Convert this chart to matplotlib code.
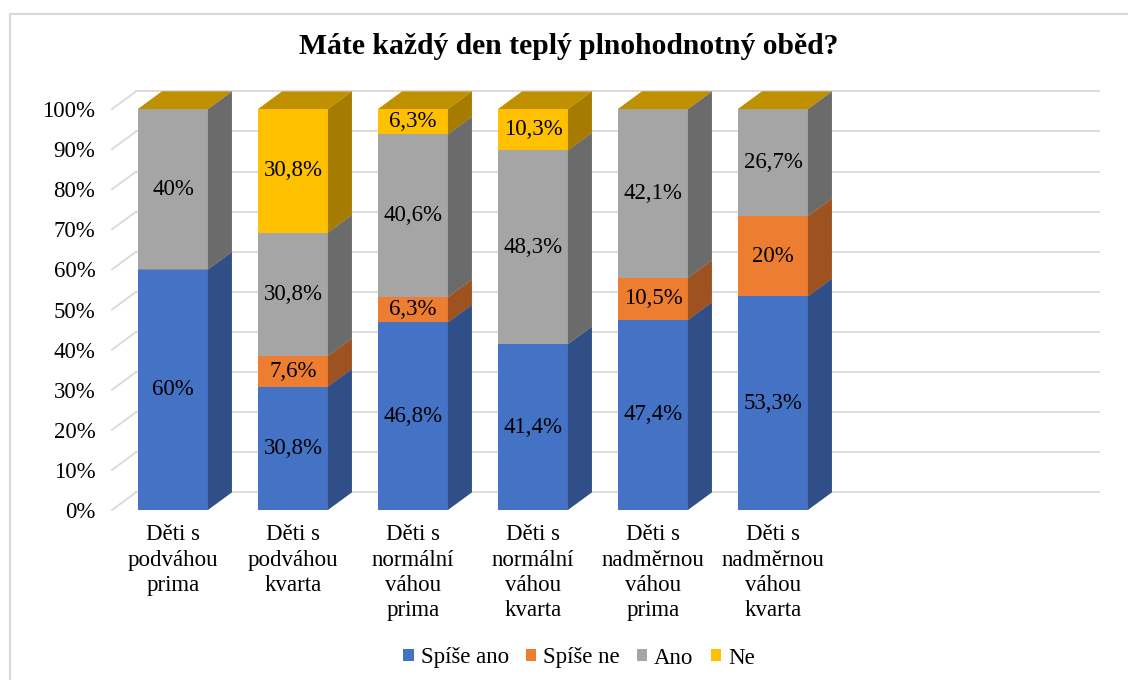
#!/usr/bin/env python3
"""
Stacked 3D-look bar chart: Máte každý den teplý plnohodnotný oběd?
"""
import matplotlib
matplotlib.use('Agg')
import matplotlib.pyplot as plt
from matplotlib.lines import Line2D
from matplotlib.patches import Polygon, Patch

plt.rcParams['font.family'] = ['Liberation Serif', 'DejaVu Serif']

# data
categories = [
    'Děti s\npodváhou\nprima',
    'Děti s\npodváhou\nkvarta',
    'Děti s\nnormální\nváhou\nprima',
    'Děti s\nnormální\nváhou\nkvarta',
    'Děti s\nnadměrnou\nváhou\nprima',
    'Děti s\nnadměrnou\nváhou\nkvarta',
]
series_names = ['Spíše ano', 'Spíše ne', 'Ano', 'Ne']
spise_ano = [60, 30.8, 46.8, 41.4, 47.4, 53.3]
spise_ne = [0, 7.6, 6.3, 0, 10.5, 20]
ano = [40, 30.8, 40.6, 48.3, 42.1, 26.7]
ne = [0, 30.8, 6.3, 10.3, 0, 0]
series_values = [spise_ano, spise_ne, ano, ne]

# colours: front, side, top
front_colors = ['#4472C4', '#ED7D31', '#A5A5A5', '#FFC000']
side_colors = ['#2F4F86', '#9E5220', '#6B6B6B', '#A67C00']
top_colors = ['#5B87D6', '#F39A5C', '#BDBDBD', '#BF9000']

# 3D look
DX = 0.2       # depth offset, x (category units)
DY = 4.4       # depth offset, y (percent units)
BAR_W = 0.583
XMIN, XMAX = -0.508, 7.717
YMAX = 104.5
GRID = '#D9D9D9'
FS = 16.5

fig = plt.figure(figsize=(11.28, 6.8), dpi=100)
ax = fig.add_axes([112 / 1128, 170 / 680, 987 / 1128, 419 / 680])
ax.set_xlim(XMIN, XMAX)
ax.set_ylim(0, YMAX)
for s in ax.spines.values():
    s.set_visible(False)
ax.set_xticks([])
ax.set_yticks(range(0, 101, 10))
ax.set_yticklabels([f'{v}%' for v in range(0, 101, 10)], fontsize=FS)
ax.tick_params(axis='y', length=0, pad=12)

# back wall + side wall gridlines
for v in range(0, 101, 10):
    ax.plot([XMIN + DX, XMAX], [v + DY, v + DY], color=GRID, lw=1.3, zorder=1, clip_on=False)
    ax.plot([XMIN, XMIN + DX], [v, v + DY], color=GRID, lw=1.3, zorder=1, clip_on=False)

# bars (each stacked series drawn above the one below so hidden tops stay hidden)
x = list(range(len(categories)))
bottoms = [0.0] * len(categories)
for k, vals in enumerate(series_values):
    z = 3 + k
    ax.bar(x, vals, BAR_W, bottom=bottoms, color=front_colors[k], zorder=z + 0.2)
    for i, v in enumerate(vals):
        b = bottoms[i]
        xr = i + BAR_W / 2
        xl = i - BAR_W / 2
        side = Polygon([(xr, b), (xr + DX, b + DY), (xr + DX, b + v + DY), (xr, b + v)],
                       closed=True, facecolor=side_colors[k], edgecolor='none', zorder=z + 0.2)
        top = Polygon([(xl, b + v), (xr, b + v), (xr + DX, b + v + DY), (xl + DX, b + v + DY)],
                      closed=True, facecolor=top_colors[k], edgecolor='none', zorder=z + 0.1)
        ax.add_patch(side)
        ax.add_patch(top)
        if v > 0:
            lbl = f'{v:g}'.replace('.', ',') + '%'
            ax.text(i, b + v / 2, lbl, ha='center', va='center', fontsize=FS,
                    color='black', zorder=10)
    bottoms = [b + v for b, v in zip(bottoms, vals)]

# category labels
for i, cat in enumerate(categories):
    ax.text(i, -3.6, cat, ha='center', va='top', fontsize=FS, linespacing=1.27,
            clip_on=False)

# title
fig.text(569 / 1128, 1 - 54 / 680, 'Máte každý den teplý plnohodnotný oběd?',
         ha='center', va='baseline', fontsize=21.3, fontweight='bold')

# legend
handles = [Patch(facecolor=c, edgecolor='none') for c in front_colors]
fig.legend(handles, series_names, loc='center', bbox_to_anchor=(579 / 1128, 1 - 658 / 680),
           ncol=4, frameon=False, fontsize=FS, handlelength=0.45, handleheight=0.45,
           handletextpad=0.3, columnspacing=0.75)

# chart border (top and left)
fig.add_artist(Line2D([10 / 1128, 1], [1 - 14 / 680, 1 - 14 / 680], color=GRID, lw=1.5))
fig.add_artist(Line2D([10 / 1128, 10 / 1128], [0, 1 - 14 / 680], color=GRID, lw=1.5))

fig.savefig('out.png', dpi=100)
